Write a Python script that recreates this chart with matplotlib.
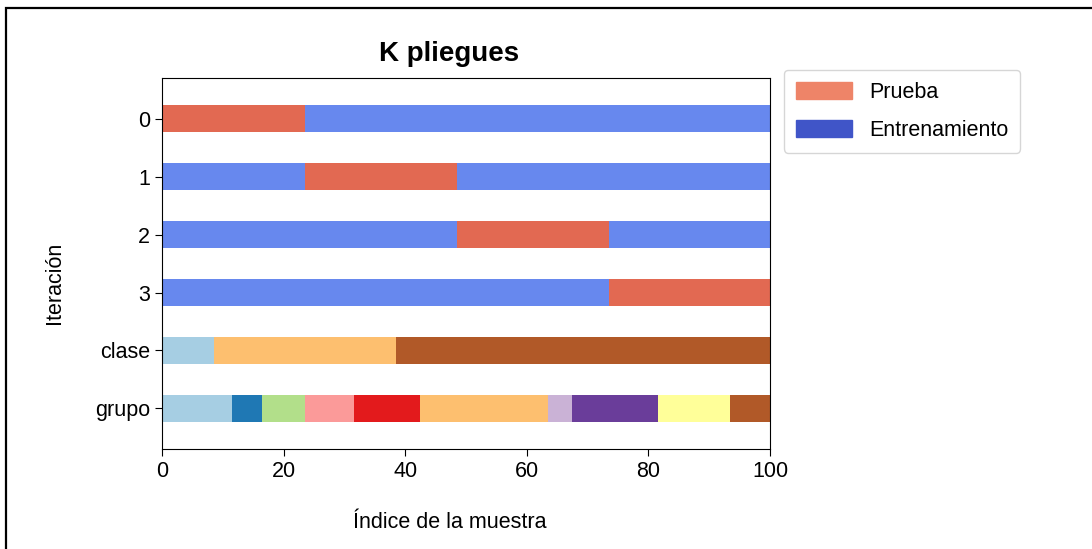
import numpy as np
import matplotlib.pyplot as plt
from matplotlib.patches import Patch, Rectangle

plt.rcParams['font.family'] = ['Liberation Sans', 'DejaVu Sans']

# row labels, top to bottom
row_labels = ['0', '1', '2', '3', 'clase', 'grupo']

# test window of each fold (sample index)
test_start = [0, 23.5, 48.5, 73.5]
test_end = [23.5, 48.5, 73.5, 100]

# class and group segment edges
class_edges = [0, 8.5, 38.5, 100]
class_ids = [0, 1, 2]
group_edges = [0, 11.5, 16.5, 23.5, 31.5, 42.5, 63.5, 67.5, 81.5, 93.5, 100]
group_ids = list(range(10))

n_samples = 100
cmap_cv = plt.cm.coolwarm
cmap_data = plt.cm.Paired

fig = plt.figure(figsize=(10.92, 5.49), dpi=100)
ax = fig.add_axes([0.1484, 0.1821, 0.5567, 0.6758])

h = 0.47
train_c = cmap_cv(0.2 / 1.4)
test_c = cmap_cv(1.2 / 1.4)

for i in range(len(test_start)):
    y = i + 0.5
    ax.barh(y, n_samples, height=h, left=0, color=train_c, lw=0)
    ax.barh(y, test_end[i] - test_start[i], height=h, left=test_start[i],
            color=test_c, lw=0)

y_cls = len(test_start) + 0.5
for k, c in enumerate(class_ids):
    ax.barh(y_cls, class_edges[k + 1] - class_edges[k], height=h,
            left=class_edges[k], color=cmap_data(c / max(class_ids)), lw=0)

y_grp = len(test_start) + 1.5
for k, g in enumerate(group_ids):
    ax.barh(y_grp, group_edges[k + 1] - group_edges[k], height=h,
            left=group_edges[k], color=cmap_data(g / max(group_ids)), lw=0)

ax.set_yticks(np.arange(len(row_labels)) + 0.5)
ax.set_yticklabels(row_labels)
ax.set_ylim(len(row_labels) + 0.2, -0.2)
ax.set_xlim(0, n_samples)
ax.tick_params(labelsize=15.5, length=5)
ax.set_xlabel('Índice de la muestra', fontsize=15.5)
ax.xaxis.set_label_coords(0.474, -0.171)
ax.set_ylabel('Iteración', fontsize=15.5)
ax.yaxis.set_label_coords(-0.16, 0.447)
ax.set_title('K pliegues', fontsize=20, fontweight='bold', pad=12, x=0.472)

ax.legend([Patch(color=cmap_cv(0.8)), Patch(color=cmap_cv(0.02))],
          ['Prueba', 'Entrenamiento'], loc='upper left',
          bbox_to_anchor=(784 / 1092, 1 - 70 / 549),
          bbox_transform=fig.transFigure, borderaxespad=0,
          fontsize=15.5, handlelength=2.6, handleheight=0.85,
          labelspacing=0.78, borderpad=0.55)

# outer frame line
fig.patches.append(Rectangle((6 / 1092, -0.1), 1.2, 1.1 - 8 / 549,
                             transform=fig.transFigure, fill=False,
                             lw=1.6, edgecolor='black'))

fig.savefig('out.png', dpi=100)
